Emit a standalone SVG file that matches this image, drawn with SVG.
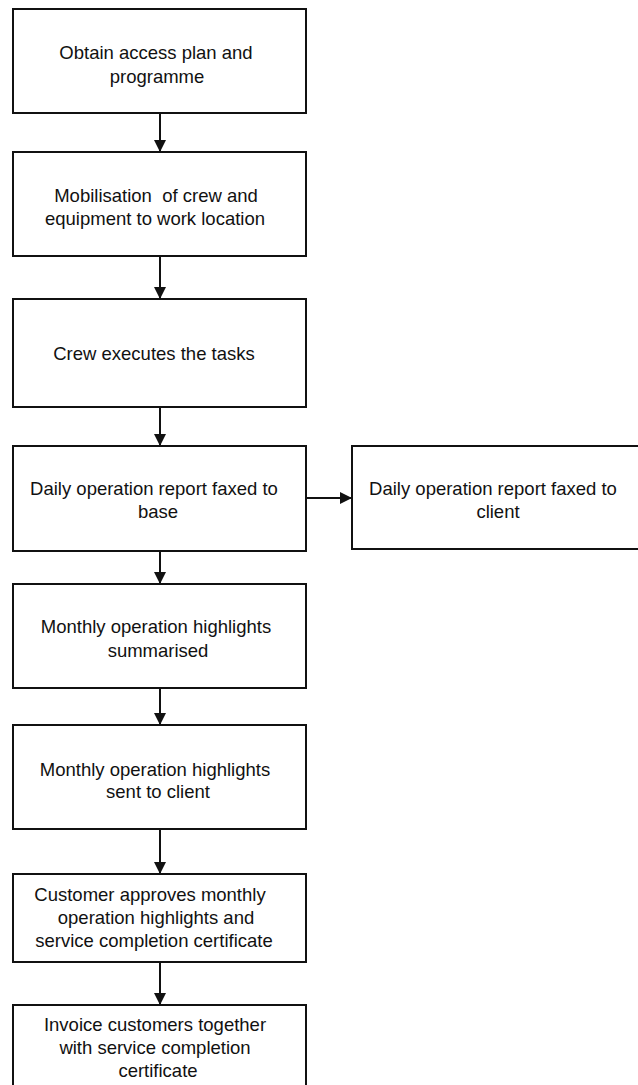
<svg xmlns="http://www.w3.org/2000/svg" width="638" height="1085" viewBox="0 0 638 1085">
<style>
.box{fill:#fff;stroke:#111;stroke-width:2}
.lbl{font-family:"Liberation Sans",Arial,sans-serif;font-size:18.5px;fill:#111;text-anchor:middle}
.conn{stroke:#111;stroke-width:2;fill:none}
</style>
<defs>
<marker id="arr" viewBox="0 0 12 12" refX="12" refY="6" markerWidth="12" markerHeight="12" markerUnits="userSpaceOnUse" orient="auto">
<path d="M0,0 L12,6 L0,12 Z" fill="#111"/>
</marker>
</defs>
<rect width="638" height="1085" fill="#fff"/>
<g id="connectors">
<line class="conn" x1="160" y1="113" x2="160" y2="152" marker-end="url(#arr)"/>
<line class="conn" x1="160" y1="256" x2="160" y2="299" marker-end="url(#arr)"/>
<line class="conn" x1="160" y1="407" x2="160" y2="446" marker-end="url(#arr)"/>
<line class="conn" x1="306" y1="498" x2="352" y2="498" marker-end="url(#arr)"/>
<line class="conn" x1="160" y1="551" x2="160" y2="584" marker-end="url(#arr)"/>
<line class="conn" x1="160" y1="688" x2="160" y2="725" marker-end="url(#arr)"/>
<line class="conn" x1="160" y1="829" x2="160" y2="874" marker-end="url(#arr)"/>
<line class="conn" x1="160" y1="962" x2="160" y2="1005" marker-end="url(#arr)"/>
</g>
<g id="n1"><rect class="box" x="13" y="9" width="293" height="104"/>
<text class="lbl" x="156" y="59">Obtain access plan and</text>
<text class="lbl" x="157" y="83">programme</text></g>
<g id="n2"><rect class="box" x="13" y="152" width="293" height="104"/>
<text class="lbl" x="156" y="202" xml:space="preserve">Mobilisation  of crew and</text>
<text class="lbl" x="155" y="225">equipment to work location</text></g>
<g id="n3"><rect class="box" x="13" y="299" width="293" height="108"/>
<text class="lbl" x="154" y="360">Crew executes the tasks</text></g>
<g id="n4"><rect class="box" x="13" y="446" width="293" height="105"/>
<text class="lbl" x="154" y="495">Daily operation report faxed to</text>
<text class="lbl" x="158" y="518">base</text></g>
<g id="n5"><rect class="box" x="352" y="446" width="290" height="103"/>
<text class="lbl" x="493" y="495">Daily operation report faxed to</text>
<text class="lbl" x="498" y="518">client</text></g>
<g id="n6"><rect class="box" x="13" y="584" width="293" height="104"/>
<text class="lbl" x="156" y="633">Monthly operation highlights</text>
<text class="lbl" x="158" y="657">summarised</text></g>
<g id="n7"><rect class="box" x="13" y="725" width="293" height="104"/>
<text class="lbl" x="155" y="776">Monthly operation highlights</text>
<text class="lbl" x="158" y="798">sent to client</text></g>
<g id="n8"><rect class="box" x="13" y="874" width="293" height="88"/>
<text class="lbl" x="150" y="901">Customer approves monthly</text>
<text class="lbl" x="156" y="924">operation highlights and</text>
<text class="lbl" x="154" y="947">service completion certificate</text></g>
<g id="n9"><rect class="box" x="13" y="1005" width="293" height="100"/>
<text class="lbl" x="155" y="1031">Invoice customers together</text>
<text class="lbl" x="155" y="1054">with service completion</text>
<text class="lbl" x="158" y="1077">certificate</text></g>
</svg>
